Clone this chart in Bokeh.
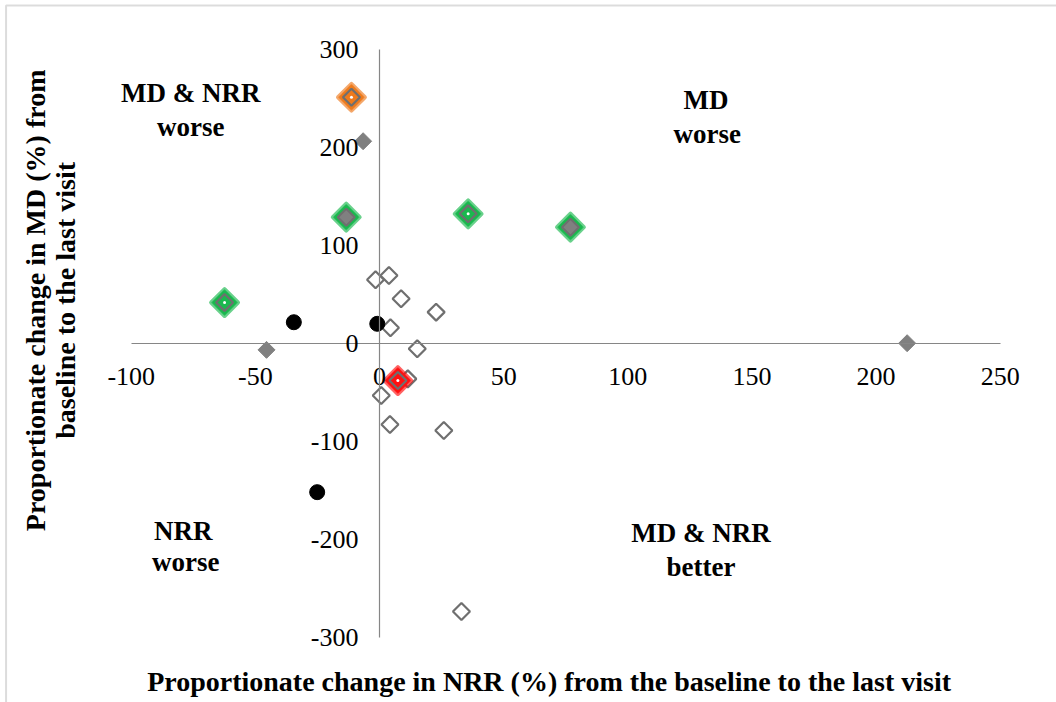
import math

from bokeh.plotting import figure
from bokeh.models import Range1d, Label, BoxAnnotation, FixedTicker
from bokeh.embed import file_html
from bokeh.resources import INLINE
from bokeh.core.properties import value

# Proportionate change (%) from baseline to last visit: NRR on x, MD on y
open_nrr = [-1.6, 3.8, 8.7, 22.8, 4.4, 15.2, 11.4, 0.7, 4.2, 25.9, 33.0]
open_md = [65.0, 69.4, 45.6, 32.0, 16.0, -5.4, -36.1, -53.1, -82.7, -88.8, -273.5]

filled_nrr = [-6.6, -45.5, 212.5]
filled_md = [206.4, -6.5, 0.3]

circle_nrr = [-34.5, -0.9, -25.1]
circle_md = [21.7, 20.1, -151.7]

# highlighted cases (glow colour marks the group)
green_filled_nrr = [-13.4, 76.9]
green_filled_md = [128.9, 118.7]
green_open_nrr = [35.7, -62.4]
green_open_md = [132.3, 41.8]
orange_open_nrr = [-11.3]
orange_open_md = [251.3]
red_open_nrr = [7.4]
red_open_md = [-37.8]

x_ticks = [-100, -50, 0, 50, 100, 150, 200, 250]
y_ticks = [-300, -200, -100, 0, 100, 200, 300]

quad_text = ["MD & NRR", "worse", "MD", "worse", "NRR", "worse", "MD & NRR", "better"]
quad_x = [-76, -76, 131.5, 132, -79, -78, 129.5, 129.5]
quad_y = [256, 221, 248, 214, -191, -223, -193, -228]

SERIF = "Liberation Serif"
GRAY_EDGE = "#6f6f6f"
GRAY_FILL = "#808080"
AXIS_GRAY = "#868686"
ROT = math.pi / 4

# the plotting frame spans the whole canvas; axes cross at the origin
p = figure(
    width=1056, height=702,
    x_range=Range1d(-152.64, 272.65), y_range=Range1d(-366.33, 350.0),
    output_backend="svg", toolbar_location=None,
    min_border=0,
)
p.grid.visible = False
p.outline_line_color = None
p.background_fill_color = "white"
p.border_fill_color = "white"

for ax, ticks in ((p.xaxis, x_ticks), (p.yaxis, y_ticks)):
    ax.fixed_location = 0
    ax.bounds = (ticks[0], ticks[-1])
    ax.ticker = FixedTicker(ticks=ticks)
    ax.major_label_overrides = {t: str(t) for t in ticks}
    ax.axis_line_color = AXIS_GRAY
    ax.axis_line_width = 1.2
    ax.major_tick_line_color = None
    ax.major_tick_out = 0
    ax.major_tick_in = 0
    ax.minor_tick_line_color = None
    ax.major_label_text_font = SERIF
    ax.major_label_text_font_size = "26px"
    ax.major_label_text_color = "black"
p.xaxis.major_label_standoff = 25
p.yaxis.major_label_standoff = 21

# outer chart border
p.add_layout(BoxAnnotation(left=-150.4, right=400, top=344.9, bottom=-500,
                           fill_color=None, line_color="#8c8c8c", line_width=2))


def glow(xs, ys, color):
    p.scatter(xs, ys, marker="square", angle=ROT, size=19, fill_color=color,
              line_color=color, line_width=4, line_join="round", alpha=0.65)
    p.scatter(xs, ys, marker="square", angle=ROT, size=15, fill_color=color,
              line_color=color, line_width=3, line_join="round")


# plain open diamonds
p.scatter(open_nrr, open_md, marker="square", angle=ROT, size=12,
          fill_color="white", line_color=GRAY_EDGE, line_width=2.2)

# plain filled diamonds
p.scatter(filled_nrr, filled_md, marker="square", angle=ROT, size=12,
          fill_color=GRAY_FILL, line_color=GRAY_FILL, line_width=1)

# black circles
p.scatter(circle_nrr, circle_md, marker="circle", size=15,
          fill_color="black", line_color="black")

# green-glow filled diamonds
glow(green_filled_nrr, green_filled_md, "#1ab84e")
p.scatter(green_filled_nrr, green_filled_md, marker="square", angle=ROT, size=12,
          fill_color=GRAY_FILL, line_color=GRAY_EDGE, line_width=2.2)

# glow open diamonds (glow shows through the hollow marker)
for xs, ys, col in ((green_open_nrr, green_open_md, "#1ab84e"),
                    (orange_open_nrr, orange_open_md, "#ee7a1c"),
                    (red_open_nrr, red_open_md, "#ff1010")):
    glow(xs, ys, col)
    p.scatter(xs, ys, marker="square", angle=ROT, size=12,
              fill_color=col, line_color=GRAY_EDGE, line_width=2.2)
    p.scatter(xs, ys, marker="circle", size=3, fill_color="white", line_color=None)

# quadrant captions
p.text(quad_x, quad_y, text=quad_text, text_font=value(SERIF),
       text_font_size="27px", text_font_style="bold", text_align="center",
       text_baseline="middle", text_color="black")

# axis titles
title_style = dict(text_font=SERIF, text_font_size="28px", text_font_style="bold",
                   text_color="black", text_align="center", text_baseline="middle")
p.add_layout(Label(x=69.7, y=-344.9,
                   text="Proportionate change in NRR (%) from  the baseline to the last visit",
                   **title_style))
p.add_layout(Label(x=-138.5, y=44, angle=math.pi / 2,
                   text="Proportionate change in MD (%) from", **title_style))
p.add_layout(Label(x=-126.5, y=44, angle=math.pi / 2,
                   text="baseline to the last visit", **title_style))

open("out.html", "w").write(file_html(p, INLINE))
